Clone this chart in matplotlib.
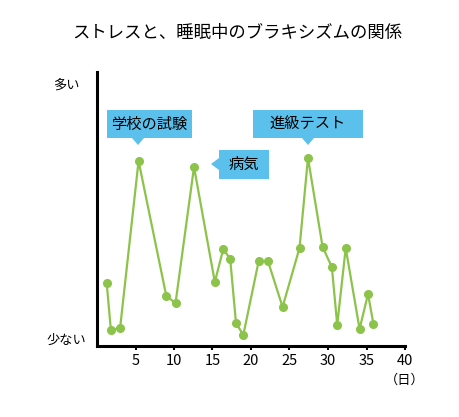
import matplotlib
matplotlib.use("Agg")
import matplotlib.pyplot as plt
from matplotlib.patches import Rectangle, Polygon

plt.rcParams['font.family'] = ['Noto Sans CJK JP', 'DejaVu Sans']

days = [1.26, 1.8, 3.0, 5.4, 9.0, 10.2, 12.6, 15.3, 16.4, 17.3, 18.05, 19.0, 21.0, 22.2,
        24.1, 26.3, 27.4, 29.3, 30.5, 31.2, 32.3, 34.1, 35.2, 35.9]
levels = [63, 16, 18, 185, 50, 43, 179, 64, 97, 87, 23, 11, 85, 85,
          39, 98, 188, 99, 79, 21, 98, 17, 52, 22]
xticks = [5, 10, 15, 20, 25, 30, 35, 40]
title = "ストレスと、睡眠中のブラキシズムの関係"

W, H = 460, 417
fig = plt.figure(figsize=(W/100, H/100), dpi=100)
ax = fig.add_axes([97/W, 1-346/H, (405-97)/W, (346-72)/H])
green = '#8cc34a'
ax.plot(days, levels, color=green, lw=1.6, marker='o', ms=5.5, zorder=3)
ax.set_xlim(0, 40)
ax.set_ylim(0, 274)
ax.set_xticks(xticks)
ax.set_xticklabels([str(t) for t in xticks], fontsize=10.5)
ax.set_yticks([])
ax.tick_params(axis='x', length=3, width=1.5, pad=3)
for s in ['top', 'right']:
    ax.spines[s].set_visible(False)
for s in ['left', 'bottom']:
    ax.spines[s].set_linewidth(2.2)

def px(x, y):
    return (x/W, 1-y/H)

fig.text(*px(237, 33), title, ha='center', va='center', fontsize=12.5)
fig.text(*px(66, 85), "多い", ha='center', va='center', fontsize=9.5)
fig.text(*px(66, 340), "少ない", ha='center', va='center', fontsize=9.5)
fig.text(*px(405, 380), "（日）", ha='center', va='center', fontsize=9.5)

blue = '#5bc0eb'
def box(x0, y0, x1, y1, label, tri):
    fig.patches.append(Rectangle(px(x0, y1), (x1-x0)/W, (y1-y0)/H, transform=fig.transFigure,
                                 facecolor=blue, edgecolor='none', zorder=5))
    fig.patches.append(Polygon([px(*p) for p in tri], closed=True, transform=fig.transFigure,
                               facecolor=blue, edgecolor='none', zorder=5))
    fig.text(*px((x0+x1)/2, (y0+y1)/2), label, ha='center', va='center', fontsize=11, zorder=6)

box(107, 110, 192, 138, "学校の試験", [(132, 138), (144, 138), (138, 145)])
box(253, 110, 363, 138, "進級テスト", [(302, 138), (314, 138), (308, 145)])
box(219, 150, 269, 179, "病気", [(219, 158), (219, 170), (211, 164)])

fig.savefig("out.png", dpi=100)
